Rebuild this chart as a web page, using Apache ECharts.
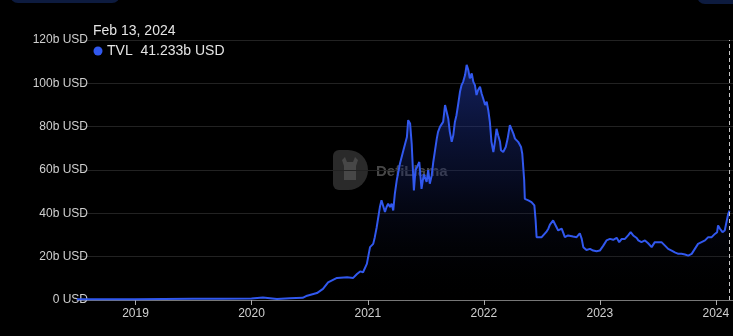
<!DOCTYPE html>
<html>
<head>
<meta charset="utf-8">
<script src="https://cdn.jsdelivr.net/npm/echarts@6/dist/echarts.min.js"></script>
<style>
html,body{margin:0;padding:0;background:#000;}
#chart{width:733px;height:336px;}
</style>
</head>
<body>
<div id="chart"></div>
<script>
// ---- data (TVL in billions USD) ----
const dates = [
  '2018-07-01','2018-10-01','2019-01-01','2019-04-01','2019-07-01','2019-10-01','2020-01-01',
  '2020-02-06','2020-03-21','2020-05-01','2020-06-10','2020-06-24','2020-07-25','2020-08-13',
  '2020-08-29','2020-09-04','2020-09-26','2020-10-28','2020-11-16','2020-11-28','2020-12-08',
  '2020-12-17','2020-12-29','2021-01-01','2021-01-08','2021-01-18','2021-01-23','2021-01-29',
  '2021-02-08','2021-02-13','2021-02-18','2021-02-24','2021-03-01','2021-03-06','2021-03-12',
  '2021-03-17','2021-03-22','2021-03-27','2021-04-02','2021-04-12','2021-04-18','2021-04-23',
  '2021-05-04','2021-05-08','2021-05-14','2021-05-19','2021-05-22','2021-05-26','2021-05-31',
  '2021-06-05','2021-06-12','2021-06-19','2021-06-26','2021-07-05','2021-07-10','2021-07-15',
  '2021-07-21','2021-07-26','2021-08-06','2021-08-10','2021-08-16','2021-08-21','2021-08-26',
  '2021-09-01','2021-09-06','2021-09-11','2021-09-16','2021-09-22','2021-09-27','2021-10-02',
  '2021-10-07','2021-10-12','2021-10-18','2021-10-23','2021-10-28','2021-11-03','2021-11-08',
  '2021-11-13','2021-11-18','2021-11-24','2021-11-29','2021-12-04','2021-12-09','2021-12-14',
  '2021-12-20','2021-12-25','2021-12-30','2022-01-05','2022-01-10','2022-01-15','2022-01-20',
  '2022-01-25','2022-01-31','2022-02-05','2022-02-10','2022-02-15','2022-02-21','2022-02-24',
  '2022-03-03','2022-03-11','2022-03-17','2022-03-24','2022-03-30','2022-04-04','2022-04-09',
  '2022-04-19','2022-04-28','2022-05-02','2022-05-08','2022-05-10','2022-05-21','2022-05-31',
  '2022-06-09','2022-06-13','2022-06-16','2022-06-21','2022-07-02','2022-07-07','2022-07-18',
  '2022-07-23','2022-07-28','2022-08-07','2022-08-13','2022-08-23','2022-09-03','2022-09-13',
  '2022-09-23','2022-10-09','2022-10-20','2022-10-30','2022-11-05','2022-11-10','2022-11-20',
  '2022-12-01','2022-12-11','2022-12-22','2023-01-01','2023-01-12','2023-01-22','2023-02-02',
  '2023-02-12','2023-02-23','2023-03-03','2023-03-11','2023-03-21','2023-03-31','2023-04-08',
  '2023-04-16','2023-04-27','2023-05-02','2023-05-12','2023-05-23','2023-06-02','2023-06-13',
  '2023-06-23','2023-07-04','2023-07-14','2023-07-25','2023-08-04','2023-08-15','2023-08-25',
  '2023-09-05','2023-09-15','2023-09-26','2023-10-06','2023-10-11','2023-10-17','2023-10-27',
  '2023-11-06','2023-11-17','2023-11-28','2023-12-08','2023-12-19','2023-12-29','2024-01-05',
  '2024-01-08','2024-01-14','2024-01-22','2024-01-29','2024-02-04','2024-02-09','2024-02-13'
];
const tvl = [
  0.3,0.3,0.35,0.45,0.55,0.6,0.7,
  1.1,0.5,0.8,1.0,2.0,3.2,5.1,
  8.1,7.7,10.2,10.5,10.2,12.0,13.2,
  12.8,16.7,19.0,24.4,25.9,29.0,33.6,
  42.9,46.0,46.7,40.6,42.9,44.4,42.9,
  44.4,41.3,49.0,55.2,62.9,62.2,69.1,
  75.2,83.0,81.5,72.2,62.9,50.6,60.0,
  61.4,63.7,51.3,58.0,54.5,59.9,53.7,
  57.5,63.7,74.5,77.6,79.9,79.2,82.2,
  90.0,86.9,83.8,77.6,73.0,76.1,82.2,
  85.3,90.0,96.1,99.2,100.7,103.8,108.5,
  106.2,102.3,104.6,100.7,99.2,94.6,96.9,
  98.4,95.3,93.0,90.0,91.5,87.6,82.2,
  73.0,68.3,73.0,79.0,76.0,73.0,69.1,
  68.3,70.6,74.5,80.7,81.0,76.8,74.5,
  73.0,70.6,67.5,55.2,46.7,46.0,45.2,
  43.7,36.7,29.0,29.8,29.0,29.8,31.7,
  32.9,34.8,36.7,36.0,32.1,32.9,29.0,
  29.8,29.3,29.0,30.8,28.2,24.4,23.1,
  23.6,22.8,22.5,22.8,25.1,27.5,28.2,
  27.8,28.7,26.7,28.2,28.2,29.8,31.3,
  29.8,28.6,27.5,26.7,27.5,26.2,24.4,
  26.7,26.7,26.7,25.1,23.6,22.8,22.0,
  21.3,21.3,21.0,20.5,19.7,21.3,23.6,
  25.9,26.7,27.5,29.0,29.0,30.5,31.3,
  34.4,32.9,31.3,32.1,32.9,39.8,41.233
];
const yTicks = [0, 20, 40, 60, 80, 100, 120];
const seriesName = 'TVL';
const axisStart = '2018-07-01';
const axisEnd = '2024-02-24';

const lastDate = dates[dates.length - 1];
const lastVal = tvl[tvl.length - 1];
const monthNames = ['Jan','Feb','Mar','Apr','May','Jun','Jul','Aug','Sep','Oct','Nov','Dec'];
function fmtDate(s) {
  const p = s.split('-');
  return monthNames[+p[1] - 1] + ' ' + (+p[2]) + ', ' + p[0];
}

const chart = echarts.init(document.getElementById('chart'), null, {renderer: 'canvas'});
const FONT = '"Liberation Sans", Arial, Helvetica, sans-serif';
const LINE = '#3158ee';

chart.setOption({
  backgroundColor: '#000000',
  animation: false,
  textStyle: {fontFamily: FONT},
  grid: {left: 77, right: 0, top: 40, bottom: 36, containLabel: false},
  xAxis: {
    type: 'time',
    min: axisStart,
    max: axisEnd,
    minInterval: 365 * 24 * 3600 * 1000,
    maxInterval: 366 * 24 * 3600 * 1000,
    axisLine: {show: true, lineStyle: {color: '#777', width: 1}},
    axisTick: {show: true, length: 5, lineStyle: {color: '#aaa'}},
    axisLabel: {
      color: '#d0d0d0', fontSize: 12, margin: 8, fontFamily: FONT,
      showMinLabel: false, showMaxLabel: false,
      formatter: function (v) { return String(new Date(v).getFullYear()); }
    },
    splitLine: {show: false}
  },
  yAxis: {
    type: 'value',
    min: yTicks[0],
    max: yTicks[yTicks.length - 1],
    interval: yTicks[1] - yTicks[0],
    axisLine: {show: false},
    axisTick: {show: false},
    axisLabel: {
      color: '#cfcfcf', fontSize: 12, margin: -11, fontFamily: FONT,
      formatter: function (v) { return v === 0 ? '0 USD' : v + 'b USD'; }
    },
    splitLine: {show: true, lineStyle: {color: '#222222', width: 1}}
  },
  series: [{
    name: seriesName,
    type: 'line',
    z: 3,
    symbol: 'none',
    showSymbol: false,
    data: dates.map(function (d, i) { return [d, tvl[i]]; }),
    lineStyle: {color: LINE, width: 2},
    itemStyle: {color: LINE},
    areaStyle: {
      color: new echarts.graphic.LinearGradient(0, 0, 0, 1, [
        {offset: 0, color: 'rgba(36,62,180,0.75)'},
        {offset: 0.5, color: 'rgba(20,34,100,0.45)'},
        {offset: 1, color: 'rgba(0,0,0,0)'}
      ])
    },
    markLine: {
      silent: true,
      symbol: ['none', 'none'],
      label: {show: false},
      lineStyle: {color: '#c8c8c8', type: [4, 3], width: 1},
      data: [{xAxis: lastDate}]
    }
  }],
  graphic: [
    {type: 'rect', z: 0, shape: {x: 10, y: -20, width: 110, height: 23, r: 8}, style: {fill: '#0d1b3f'}},
    {type: 'rect', z: 0, shape: {x: 697, y: -20, width: 60, height: 24, r: 8}, style: {fill: '#0d1b3f'}},
    // watermark
    {type: 'rect', z: 0, shape: {x: 333, y: 150, width: 35, height: 40, r: [6, 20, 20, 6]}, style: {fill: '#2a2a2a'}},
    {type: 'polygon', z: 0, shape: {points: [[342,160],[345,157],[347,162],[353,162],[355,157],[358,160],[356,166],[356,180],[344,180],[344,166]]}, style: {fill: '#474747'}},
    {type: 'text', z: 0, x: 376, y: 172, style: {text: 'DefiLlama', fill: '#474747', font: 'bold 15px ' + FONT, textVerticalAlign: 'middle'}},
    // header
    {type: 'text', z: 10, x: 93, y: 31, style: {text: fmtDate(lastDate), fill: '#e4e4e4', font: '14px ' + FONT, textVerticalAlign: 'middle'}},
    {type: 'circle', z: 10, shape: {cx: 98, cy: 51, r: 4.5}, style: {fill: LINE}},
    {type: 'text', z: 10, x: 107, y: 51, style: {text: seriesName + '  ' + lastVal.toFixed(3) + 'b USD', fill: '#e4e4e4', font: '14px ' + FONT, textVerticalAlign: 'middle'}}
  ]
});
</script>
</body>
</html>
